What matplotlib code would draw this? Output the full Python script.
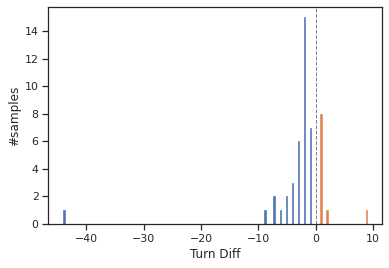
import numpy as np
import matplotlib
matplotlib.use("Agg")
import matplotlib.pyplot as plt
import seaborn as sns

# turn differences (integer values) and how many samples had each
neg_values = [-44, -9, -7, -6, -5, -4, -3, -2, -1]
neg_counts = [1, 1, 2, 1, 2, 3, 6, 15, 7]
pos_values = [1, 2, 9]
pos_counts = [8, 1, 1]

neg = np.repeat(neg_values, neg_counts)
pos = np.repeat(pos_values, pos_counts)

sns.set_theme(style="ticks", palette="deep")
plt.rcParams['font.family'] = ['DejaVu Sans']

fig = plt.figure(figsize=(389 / 72, 268 / 72), dpi=72)
ax = fig.add_axes([0.124, 0.164, 0.859, 0.81])

colors = ["#4C72B0", "#DD8452"]
_, _, patches = ax.hist([neg, pos], bins=100, color=colors)
for bars, c in zip(patches, colors):
    for b in bars:
        b.set_edgecolor(c)
        b.set_linewidth(0.6)
ax.axvline(0, color="grey", linestyle="--", linewidth=1)
ax.set_xlabel("Turn Diff")
ax.set_ylabel("#samples")

fig.savefig("out.png", dpi=72)
